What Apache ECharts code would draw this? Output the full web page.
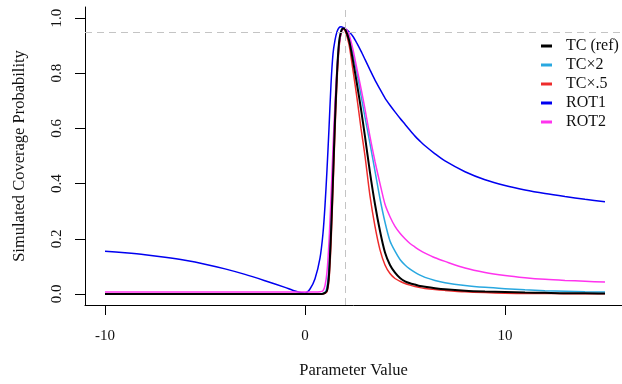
<!DOCTYPE html>
<html>
<head>
<meta charset="utf-8">
<script src="https://cdn.jsdelivr.net/npm/echarts@6/dist/echarts.min.js"></script>
<style>
  html, body { margin: 0; padding: 0; background: #fff; }
  #chart { width: 622px; height: 384px; }
</style>
</head>
<body>
<div id="chart"></div>
<script>
// parameter values (x)
const xs = [-10, -9, -8, -7, -6, -5, -4, -3, -2, -1, -0.5, 0, 0.25, 0.5, 0.75, 0.9,
  1, 1.1, 1.2, 1.3, 1.4, 1.5, 1.6, 1.7, 1.8, 1.9, 2, 2.2, 2.4, 2.6, 2.8,
  3, 3.25, 3.5, 3.75, 4, 4.25, 4.5, 4.75, 5, 5.25, 5.5, 5.75, 6, 6.5, 7, 8, 9, 10, 11, 12, 13, 14, 15];

// simulated coverage probability, one list per method
const tcRef = [0, 0, 0, 0, 0, 0, 0, 0, 0, 0, 0, 0, 0, 0, 0, 0.001,
  0.004, 0.012, 0.07, 0.22, 0.42, 0.63, 0.8, 0.91, 0.95, 0.962, 0.96, 0.92, 0.845, 0.76, 0.67,
  0.57, 0.44, 0.325, 0.228, 0.15, 0.105, 0.077, 0.058, 0.046, 0.039, 0.034, 0.029, 0.026, 0.021, 0.017, 0.012, 0.009, 0.007, 0.005, 0.004, 0.003, 0.003, 0.002];
const tcX2 = [0, 0, 0, 0, 0, 0, 0, 0, 0, 0, 0, 0, 0, 0, 0, 0.002,
  0.006, 0.025, 0.1, 0.27, 0.47, 0.66, 0.81, 0.91, 0.952, 0.962, 0.96, 0.93, 0.87, 0.8, 0.72,
  0.64, 0.545, 0.445, 0.345, 0.26, 0.192, 0.155, 0.125, 0.105, 0.09, 0.078, 0.068, 0.06, 0.049, 0.041, 0.031, 0.024, 0.019, 0.015, 0.012, 0.01, 0.008, 0.007];
const tcHalf = [0, 0, 0, 0, 0, 0, 0, 0, 0, 0, 0, 0, 0, 0, 0, 0,
  0.002, 0.008, 0.05, 0.18, 0.38, 0.59, 0.77, 0.89, 0.945, 0.96, 0.955, 0.905, 0.81, 0.71, 0.6,
  0.5, 0.355, 0.245, 0.16, 0.105, 0.074, 0.056, 0.046, 0.038, 0.032, 0.027, 0.023, 0.02, 0.016, 0.013, 0.008, 0.005, 0.003, 0.002, 0.002, 0.001, 0.001, 0.001];
const rot1 = [0.155, 0.149, 0.142, 0.133, 0.122, 0.108, 0.091, 0.071, 0.048, 0.024, 0.011, 0.003, 0.018, 0.055, 0.13, 0.22,
  0.32, 0.45, 0.6, 0.76, 0.87, 0.92, 0.95, 0.965, 0.968, 0.966, 0.962, 0.95, 0.933, 0.908, 0.88,
  0.85, 0.812, 0.775, 0.742, 0.71, 0.684, 0.66, 0.637, 0.615, 0.593, 0.572, 0.554, 0.537, 0.508, 0.482, 0.443, 0.414, 0.393, 0.377, 0.364, 0.353, 0.343, 0.334];
const rot2 = [0.007, 0.007, 0.007, 0.007, 0.007, 0.007, 0.007, 0.007, 0.007, 0.007, 0.007, 0.007, 0.007, 0.007, 0.008, 0.012,
  0.03, 0.08, 0.19, 0.35, 0.53, 0.69, 0.82, 0.9, 0.945, 0.962, 0.962, 0.94, 0.885, 0.815, 0.745,
  0.67, 0.57, 0.48, 0.4, 0.325, 0.28, 0.245, 0.22, 0.2, 0.183, 0.17, 0.158, 0.148, 0.131, 0.118, 0.094, 0.078, 0.067, 0.059, 0.053, 0.049, 0.046, 0.043];

const xTicks = [-10, 0, 10];
const yTicks = [0, 0.2, 0.4, 0.6, 0.8, 1.0];
const nominal = 0.95;
const trueValue = 2;

const names = ['TC (ref)', 'TC×2', 'TC×.5', 'ROT1', 'ROT2'];

const font = "'Liberation Serif', 'DejaVu Serif', serif";
const pairs = arr => xs.map((x, i) => [x, arr[i]]);

function line(name, values, color, width) {
  return {
    name: name,
    type: 'line',
    data: pairs(values),
    showSymbol: false,
    smooth: 0.25,
    color: color,
    lineStyle: { color: color, width: width },
    emphasis: { disabled: true },
    z: 3
  };
}

const series = [
  line('TC×2', tcX2, '#29A8E0', 1.5),
  line('TC×.5', tcHalf, '#EE2C2C', 1.5),
  line('ROT1', rot1, '#0000F0', 1.5),
  line('ROT2', rot2, '#FF33EE', 1.5),
  line('TC (ref)', tcRef, '#000000', 2)
];
series[0].markLine = {
  silent: true,
  symbol: 'none',
  label: { show: false },
  lineStyle: { color: '#c4c4c4', type: [7, 5], width: 1 },
  data: [{ yAxis: nominal }, { xAxis: trueValue }]
};

const chart = echarts.init(document.getElementById('chart'));
chart.setOption({
  animation: false,
  textStyle: { fontFamily: font },
  grid: { left: 85, right: 0, top: 7, bottom: 78 },
  legend: {
    data: names,
    orient: 'vertical',
    left: 541,
    top: 38,
    padding: 0,
    icon: 'rect',
    itemWidth: 11,
    itemHeight: 3,
    itemGap: 3,
    textStyle: { fontFamily: font, fontSize: 16, color: '#111', lineHeight: 15.5, padding: [0, 0, 0, 9] }
  },
  xAxis: {
    type: 'value',
    min: -11,
    max: 15.85,
    name: 'Parameter Value',
    nameLocation: 'middle',
    nameGap: 57,
    nameTextStyle: { fontFamily: font, fontSize: 16.5, color: '#111' },
    axisLine: { onZero: false, lineStyle: { color: '#000', width: 1 } },
    axisTick: { customValues: xTicks, length: 10, lineStyle: { color: '#000' } },
    axisLabel: { customValues: xTicks, margin: 24, fontFamily: font, fontSize: 15, color: '#111' },
    splitLine: { show: false }
  },
  yAxis: {
    type: 'value',
    min: -0.04,
    max: 1.04,
    name: 'Simulated Coverage Probability',
    nameLocation: 'middle',
    nameGap: 57,
    nameTextStyle: { fontFamily: font, fontSize: 16.5, color: '#111' },
    axisLine: { show: true, onZero: false, lineStyle: { color: '#000', width: 1 } },
    axisTick: { show: true, customValues: yTicks, length: 10, lineStyle: { color: '#000' } },
    axisLabel: {
      customValues: yTicks, rotate: 90, margin: 20, fontFamily: font, fontSize: 15, color: '#111',
      formatter: v => v.toFixed(1)
    },
    splitLine: { show: false }
  },
  series: series
});
</script>
</body>
</html>
